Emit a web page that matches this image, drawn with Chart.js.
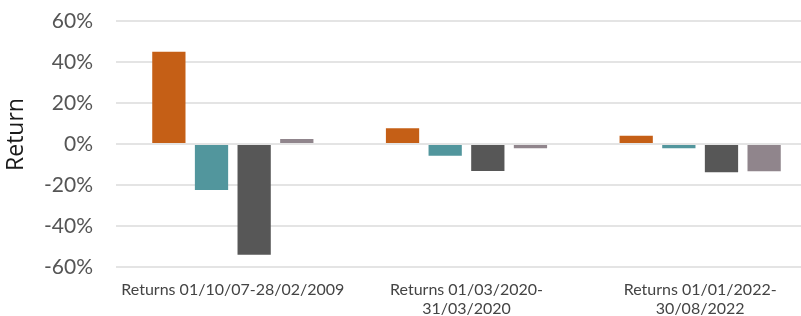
<!DOCTYPE html>
<html>
<head>
<meta charset="utf-8">
<script src="https://cdn.jsdelivr.net/npm/chart.js@4"></script>
<style>
  html, body { margin: 0; padding: 0; background: #fff; overflow: hidden; }
  #wrap { width: 817px; height: 316px; }
</style>
</head>
<body>
<div id="wrap"><canvas id="chart"></canvas></div>
<script>
const categories = [
  'Returns 01/10/07-28/02/2009',
  ['Returns 01/03/2020-', '31/03/2020'],
  ['Returns 01/01/2022-', '30/08/2022']
];
const seriesA = [45, 7.7, 4];
const seriesB = [-22.4, -5.7, -2.1];
const seriesC = [-54, -13.2, -13.8];
const seriesD = [2.4, -2.1, -13.3];
const colours = ['#c55f16', '#52969d', '#575757', '#90858c'];
const yTicks = [-60, -40, -20, 0, 20, 40, 60];
const yTitle = 'Return';

const datasets = [seriesA, seriesB, seriesC, seriesD].map((values, i) => ({
  label: 'Series ' + (i + 1),
  data: values,
  backgroundColor: colours[i],
  borderWidth: 0,
  barPercentage: 0.78,
  categoryPercentage: 0.73
}));

// axis title drawn a little above the plot centre, like the original
const yTitlePlugin = {
  id: 'yTitle',
  afterDraw(chart) {
    const ctx = chart.ctx;
    const area = chart.chartArea;
    ctx.save();
    ctx.translate(23, (area.top + area.bottom) / 2 - 9.5);
    ctx.rotate(-Math.PI / 2);
    ctx.font = '23px "Open Sans"';
    ctx.fillStyle = '#1a1a1a';
    ctx.textAlign = 'center';
    ctx.textBaseline = 'alphabetic';
    ctx.fillText(yTitle, 0, 0);
    ctx.restore();
  }
};

new Chart(document.getElementById('chart'), {
  type: 'bar',
  data: { labels: categories, datasets: datasets },
  plugins: [yTitlePlugin],
  options: {
    responsive: true,
    maintainAspectRatio: false,
    animation: false,
    layout: { padding: { top: 21, right: 0, left: 0, bottom: 0 } },
    plugins: { legend: { display: false }, tooltip: { enabled: false } },
    scales: {
      x: {
        afterFit: (scale) => { scale.height = 49; },
        grid: { display: false, drawTicks: false },
        border: { display: false },
        ticks: {
          color: '#444',
          padding: 14,
          maxRotation: 0,
          autoSkip: false,
          font: { family: 'Lato', size: 16, lineHeight: 1.15 }
        }
      },
      y: {
        min: -60,
        max: 60,
        afterBuildTicks: (scale) => { scale.ticks = yTicks.map(v => ({ value: v })); },
        afterFit: (scale) => {
          scale.width = 116;
          scale.paddingTop = 0;
          scale.paddingBottom = 0;
        },
        grid: { color: '#e4e4e4', lineWidth: 2, drawTicks: false },
        border: { display: false },
        ticks: {
          color: '#555',
          padding: 23,
          font: { family: 'Lato', size: 21 },
          callback: (v) => v + '%'
        },
        title: { display: false }
      }
    }
  }
});
</script>
</body>
</html>
